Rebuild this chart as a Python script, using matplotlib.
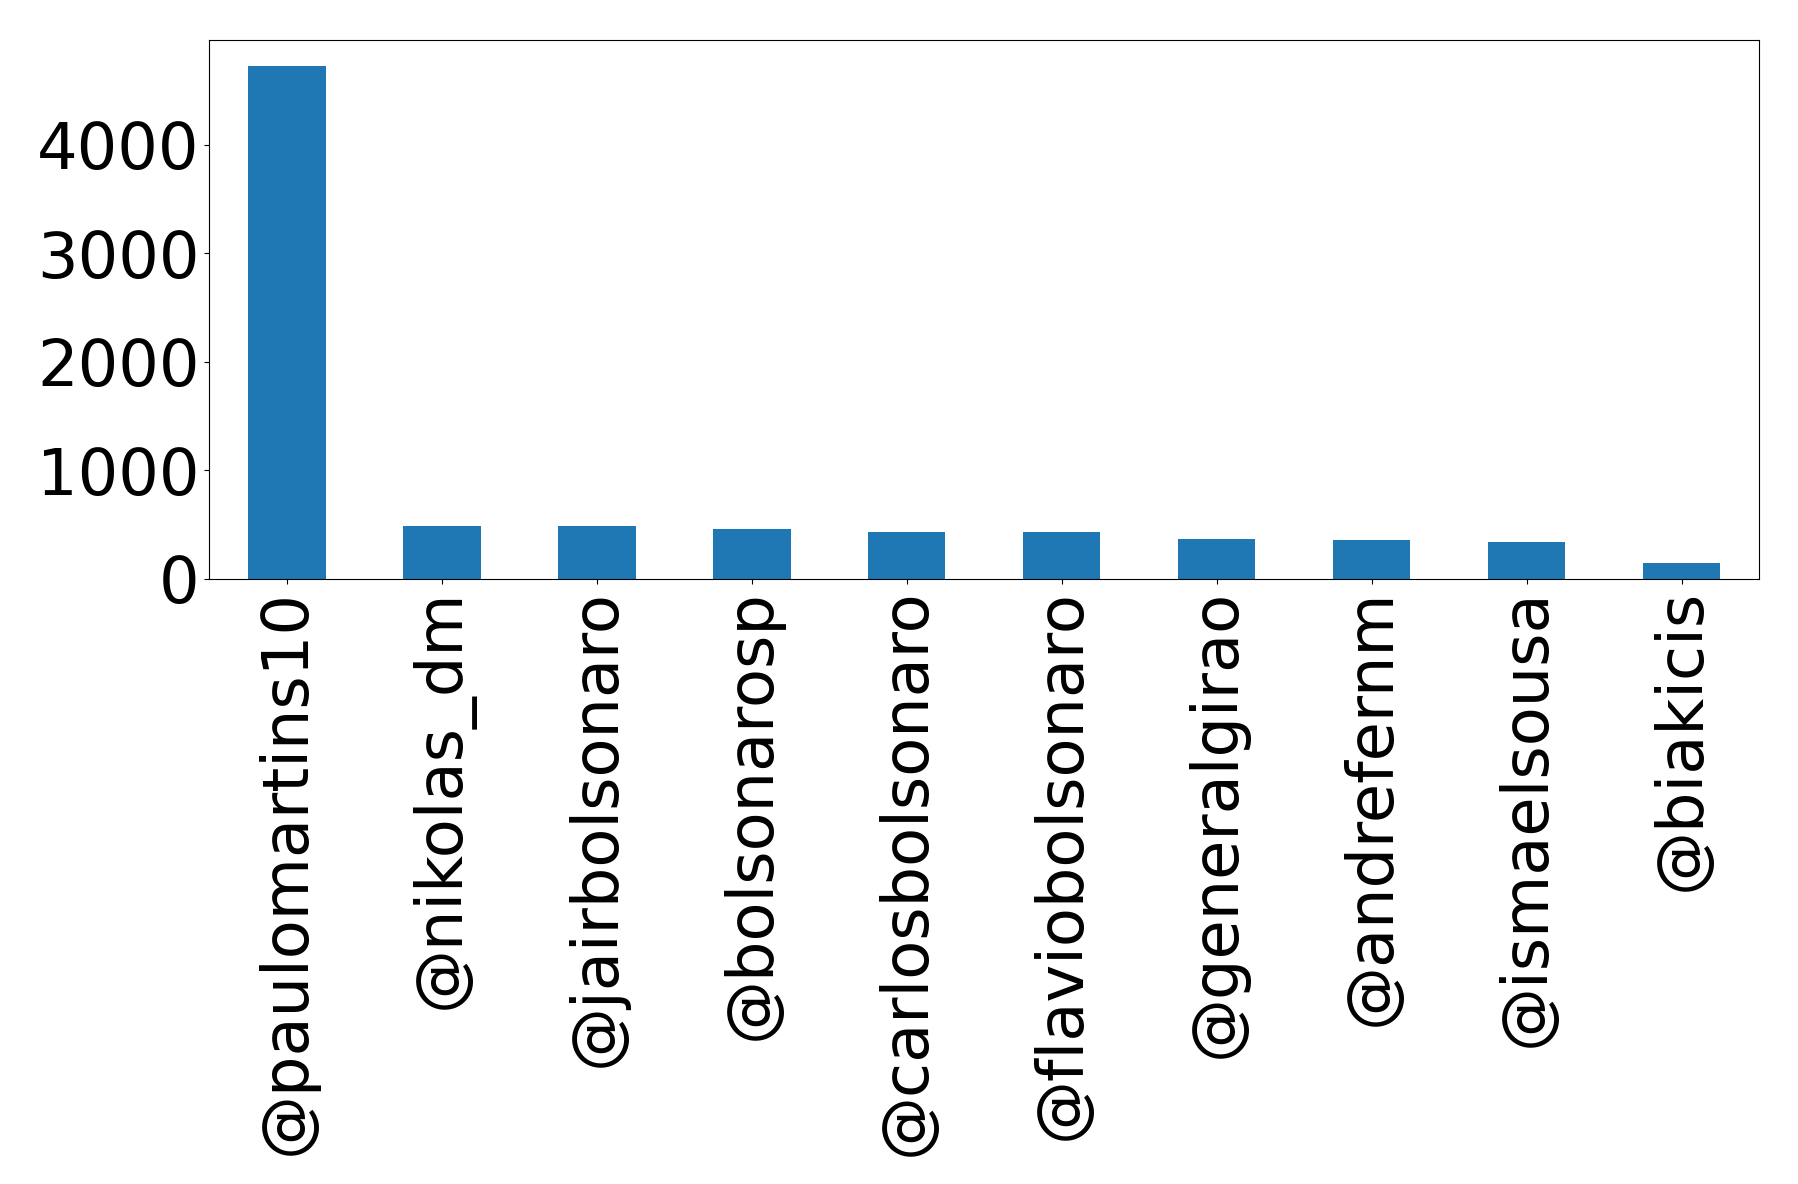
import matplotlib
matplotlib.use("Agg")
import matplotlib.pyplot as plt

# usernames and counts
users = ['@paulomartins10', '@nikolas_dm', '@jairbolsonaro', '@bolsonarosp',
         '@carlosbolsonaro', '@flaviobolsonaro', '@generalgirao', '@andrefernm',
         '@ismaelsousa', '@biakicis']
counts = [4731, 488, 486, 459, 433, 431, 369, 358, 341, 148]
yticks = [0, 1000, 2000, 3000, 4000]

fig = plt.figure(figsize=(17.98, 11.84), dpi=100)
ax = fig.add_axes([0.1165, 0.511, 0.8618, 0.4552])

x = list(range(len(users)))
ax.bar(x, counts, width=0.5, color='#1f77b4')
ax.set_xlim(-0.5, len(users) - 0.5)
ax.set_xticks(x)
ax.set_xticklabels(users, rotation=90)
ax.set_yticks(yticks)
ax.tick_params(axis='both', labelsize=46)

fig.savefig('out.png', dpi=100)
